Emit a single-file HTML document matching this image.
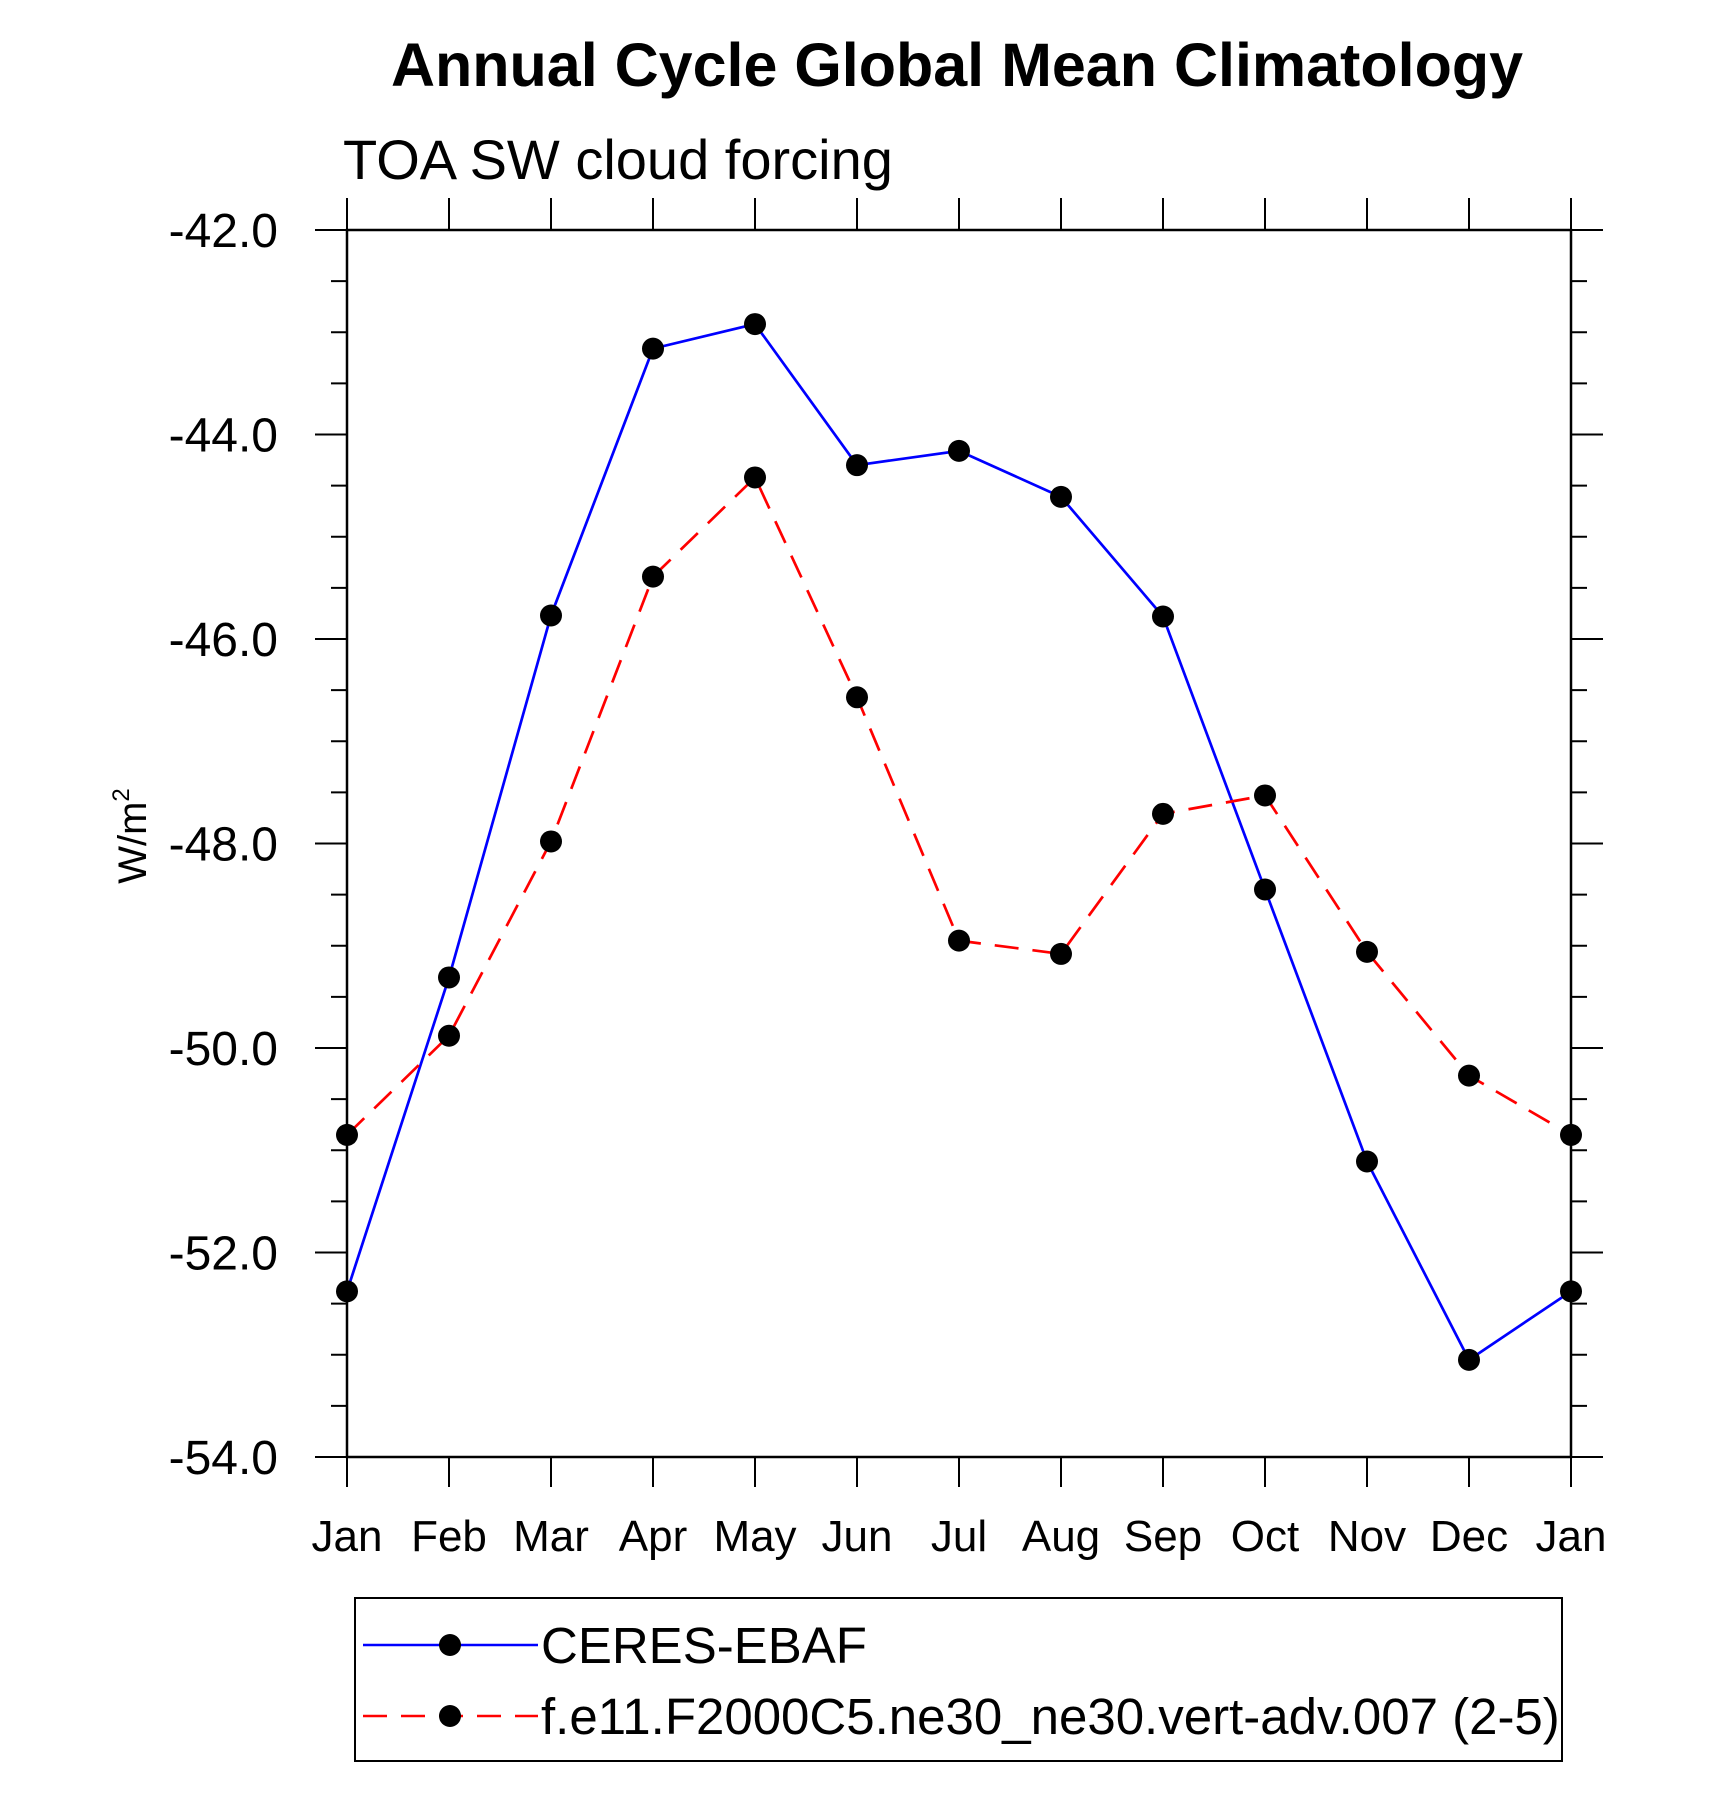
<!DOCTYPE html>
<html><head><meta charset="utf-8"><style>
body{margin:0;background:#fff}
svg{display:block;font-family:"Liberation Sans",sans-serif}
</style></head><body>
<svg id="chart" width="1710" height="1803" viewBox="0 0 1710 1803">
<text x="957" y="86" text-anchor="middle" font-size="61" font-weight="bold">Annual Cycle Global Mean Climatology</text>
<text x="343" y="179" font-size="56">TOA SW cloud forcing</text>
<text transform="translate(146,836) rotate(-90)" text-anchor="middle" font-size="40">W/m<tspan font-size="24" dy="-17">2</tspan></text>
<g id="axes"></g>
<g id="series"></g>
<rect x="355" y="1598" width="1207" height="163" fill="none" stroke="#000" stroke-width="2"/>
<g>
<line x1="363" y1="1645" x2="538" y2="1645" stroke="#0000ff" stroke-width="2.5"/>
<circle cx="450" cy="1645" r="11" fill="#000"/>
<text x="541" y="1663" font-size="51">CERES-EBAF</text>
</g>
<g>
<line x1="363" y1="1716" x2="538" y2="1716" stroke="#ff0000" stroke-width="2.5" stroke-dasharray="24,14"/>
<circle cx="450" cy="1716" r="11" fill="#000"/>
<text x="541" y="1734" font-size="51">f.e11.F2000C5.ne30_ne30.vert-adv.007 (2-5)</text>
</g>
</svg>
<script>
const months = ["Jan","Feb","Mar","Apr","May","Jun","Jul","Aug","Sep","Oct","Nov","Dec","Jan"];
const ceres = [-52.38,-49.31,-45.77,-43.16,-42.92,-44.30,-44.16,-44.61,-45.78,-48.45,-51.11,-53.05,-52.38];
const model = [-50.85,-49.88,-47.98,-45.39,-44.42,-46.57,-48.95,-49.08,-47.71,-47.53,-49.06,-50.27,-50.85];
const yTicks = [-42,-44,-46,-48,-50,-52,-54];
const yTickLabels = ["-42.0","-44.0","-46.0","-48.0","-50.0","-52.0","-54.0"];

const L=347,R=1571,T=230,B=1457;
const yMin=-54,yMax=-42;
const xs=i=>L+(R-L)*i/(months.length-1);
const ys=v=>B-(v-yMin)/(yMax-yMin)*(B-T);
const NS="http://www.w3.org/2000/svg";
function mk(tag,attrs,parent){const e=document.createElementNS(NS,tag);for(const k in attrs)e.setAttribute(k,attrs[k]);parent.appendChild(e);return e;}
const ax=document.getElementById('axes');
const fr=mk('rect',{x:L,y:T,width:R-L,height:B-T,fill:'none',stroke:'#000','stroke-width':2.5},ax);


for(let v=yMin;v<=yMax+1e-9;v+=0.5){
  const y=ys(v);const major=Math.abs(v-Math.round(v/2)*2)<1e-6;const len=major?32:16;
  const t1=mk('line',{x1:L-len,y1:y,x2:L,y2:y,stroke:'#000','stroke-width':2},ax);
  
  
  const t2=mk('line',{x1:R,y1:y,x2:R+len,y2:y,stroke:'#000','stroke-width':2},ax);
  
  
}
yTicks.forEach((v,i)=>{
  const t=mk('text',{x:278,y:ys(v)+17,'text-anchor':'end','font-size':48},ax);
  t.textContent=yTickLabels[i];
  
  
});
months.forEach((m,i)=>{
  const x=xs(i);
  const a=mk('line',{x1:x,y1:B,x2:x,y2:B+30,stroke:'#000','stroke-width':2},ax);
  
  
  const b=mk('line',{x1:x,y1:T-32,x2:x,y2:T,stroke:'#000','stroke-width':2},ax);
  
  
  const t=mk('text',{x:x,y:1551,'text-anchor':'middle','font-size':44},ax);
  t.textContent=m;
  
  
});
const sg=document.getElementById('series');
function draw(vals,color,dash,name){
  const pts=vals.map((v,i)=>xs(i)+','+ys(v)).join(' ');
  const pl=mk('polyline',{points:pts,fill:'none',stroke:color,'stroke-width':2.7,'stroke-dasharray':dash},sg);
  
  
  vals.forEach((v,i)=>{
    const c=mk('circle',{cx:xs(i),cy:ys(v),r:11,fill:'#000'},sg);
    
    
  });
}
draw(ceres,'#0000ff','none','ceres');
draw(model,'#ff0000','24,14','model');
</script>
</body></html>
